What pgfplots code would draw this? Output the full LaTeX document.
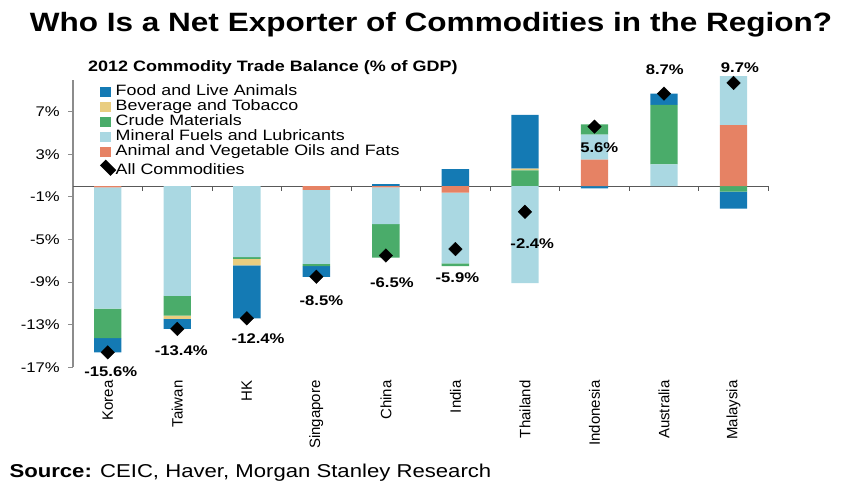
\documentclass[border=0pt]{standalone}
\usepackage{pgfplots}
\pgfplotsset{compat=1.18}
\usepackage{pgfplotstable}
\usepackage{fontspec}
\setmainfont{Liberation Sans}
\newcommand{\hs}[1]{\scalebox{1.19}[1]{#1}}
\definecolor{cFood}{RGB}{20,122,180}
\definecolor{cBev}{RGB}{233,205,128}
\definecolor{cCrude}{RGB}{74,172,106}
\definecolor{cMin}{RGB}{170,216,226}
\definecolor{cOils}{RGB}{230,130,100}

% stacking order from zero outward: Oils, Mineral, Crude, Beverage, Food
% (positive and negative values are stacked separately)
\pgfplotstableread{
x o m c b f
0 -0.1 -11.4 -2.75 0 -1.35
1 0 -10.3 -1.85 -0.3 -0.95
2 0 -6.65 -0.17 -0.62 -4.96
3 -0.35 -6.95 -0.2 0 -1.0
4 -0.1 -3.45 -3.15 0 0.2
5 -0.6 -6.65 -0.25 0 1.6
6 0 -9.1 1.5 0.15 5.05
7 2.5 2.35 0.95 0 -0.2
8 0 2.05 5.6 0 1.05
9 5.75 4.6 -0.5 0 -1.6
}\bars

\pgfplotstableread{
x y dx dy
0 -15.6 3 -19.3
1 -13.4 4 -21.8
2 -12.4 11.3 -20.4
3 -8.5 5 -23.7
4 -6.5 6 -27
5 -5.9 2 -28.7
6 -2.4 7.3 -31.6
7 5.6 4.8 -20.8
8 8.7 0.8 24.4
9 9.7 6.3 15.5
}\dia

\pgfplotsset{
  common/.style={
    at={(73pt,121.7pt)}, anchor=south west, scale only axis,
    width=695.3pt, height=287.55pt,
    xmin=-0.5, xmax=9.5, ymin=-17, ymax=10, clip=false,
  }
}

\begin{document}
\begin{tikzpicture}
\path[use as bounding box] (0,0) rectangle (842pt,489pt);
\begin{axis}[
  common,
  ybar stacked, bar width=27.4pt,
  axis y line*=left, axis x line*=bottom,
  x axis line style={draw=none},
  y axis line style={draw=black!45, line width=1.2pt},
  ytick={-17,-13,-9,-5,-1,3,7},
  yticklabel={\hs{\pgfmathprintnumber{\tick}\%}},
  /pgf/number format/assume math mode=true,
  ytick style={draw=black!45, line width=1pt},
  major tick length=5pt, tick align=outside,
  yticklabel style={font=\fontsize{14}{14}\selectfont, inner sep=0pt, xshift=-8pt},
  xtick={0,...,9},
  xticklabels={Korea,Taiwan,HK,Singapore,China,India,Thailand,Indonesia,Australia,Malaysia},
  xtick style={draw=none},
  xticklabel style={rotate=90, anchor=east, inner sep=0pt, font=\fontsize{15}{15}\selectfont, xshift=-8pt},
  legend style={at={(axis description cs:0.0388,0.983)}, anchor=north west,
    draw=none, fill=none, inner sep=0pt, outer sep=0pt, row sep=0pt, column sep=-1.5pt,
    font=\fontsize{15}{15}\selectfont,
    nodes={inner xsep=1pt, inner ysep=0pt, text height=11pt, text depth=4pt}},
  legend cell align=left,
]
\addlegendimage{legend image code/.code={\fill[cFood] (0pt,-4.5pt) rectangle (10pt,4.5pt);}}
\addlegendimage{legend image code/.code={\fill[cBev] (0pt,-4.5pt) rectangle (10pt,4.5pt);}}
\addlegendimage{legend image code/.code={\fill[cCrude] (0pt,-4.5pt) rectangle (10pt,4.5pt);}}
\addlegendimage{legend image code/.code={\fill[cMin] (0pt,-4.5pt) rectangle (10pt,4.5pt);}}
\addlegendimage{legend image code/.code={\fill[cOils] (0pt,-4.5pt) rectangle (10pt,4.5pt);}}
\addlegendimage{legend image code/.code={\node[fill=black, rotate=45, inner sep=0pt, minimum size=8pt] at (5pt,0pt) {};}}
\legend{\hs{Food and Live Animals},\hs{Beverage and Tobacco},\hs{Crude Materials},\hs{Mineral Fuels and Lubricants},\hs{Animal and Vegetable Oils and Fats},\hs{All Commodities}}

\addplot[fill=cOils, draw=none] table[x=x,y=o]{\bars};
\addplot[fill=cMin, draw=none] table[x=x,y=m]{\bars};
\addplot[fill=cCrude, draw=none] table[x=x,y=c]{\bars};
\addplot[fill=cBev, draw=none] table[x=x,y=b]{\bars};
\addplot[fill=cFood, draw=none] table[x=x,y=f]{\bars};

\draw[line width=1.1pt, black!65] (axis cs:-0.5,0) -- (axis cs:9.5,0);
\pgfplotsinvokeforeach{0,...,9}{\draw[line width=1pt, black!65] (axis cs:#1.5,0) -- ++(0pt,-5pt);}
\end{axis}

\begin{axis}[common, hide axis]
\addplot[only marks, mark=square*, mark size=4.8pt,
  mark options={rotate=45, fill=black, draw=black},
  visualization depends on={\thisrow{dx} \as \dx},
  visualization depends on={\thisrow{dy} \as \dy},
  nodes near coords={\hs{\pgfmathprintnumber[fixed,fixed zerofill,precision=1,assume math mode=true]{\pgfplotspointmeta}\%}},
  every node near coord/.append style={anchor=center, xshift=\dx pt, yshift=\dy pt,
    font=\fontsize{14}{14}\selectfont\bfseries, inner sep=0pt, text=black},
] table[x=x,y=y]{\dia};
\end{axis}

\node[anchor=base, inner sep=0pt, font=\fontsize{26.5}{26.5}\selectfont\bfseries] at (431pt,457.3pt)
  {\hs{Who Is a Net Exporter of Commodities in the Region?}};
\node[anchor=base west, inner sep=0pt, font=\fontsize{15.1}{15.1}\selectfont\bfseries] at (88pt,417.3pt)
  {\hs{2012 Commodity Trade Balance (\% of GDP)}};
\node[anchor=base west, inner sep=0pt, font=\fontsize{18.6}{18.6}\selectfont] at (9.3pt,11.7pt)
  {\hs{\textbf{Source:} CEIC, Haver, Morgan Stanley Research}};
\end{tikzpicture}
\end{document}
